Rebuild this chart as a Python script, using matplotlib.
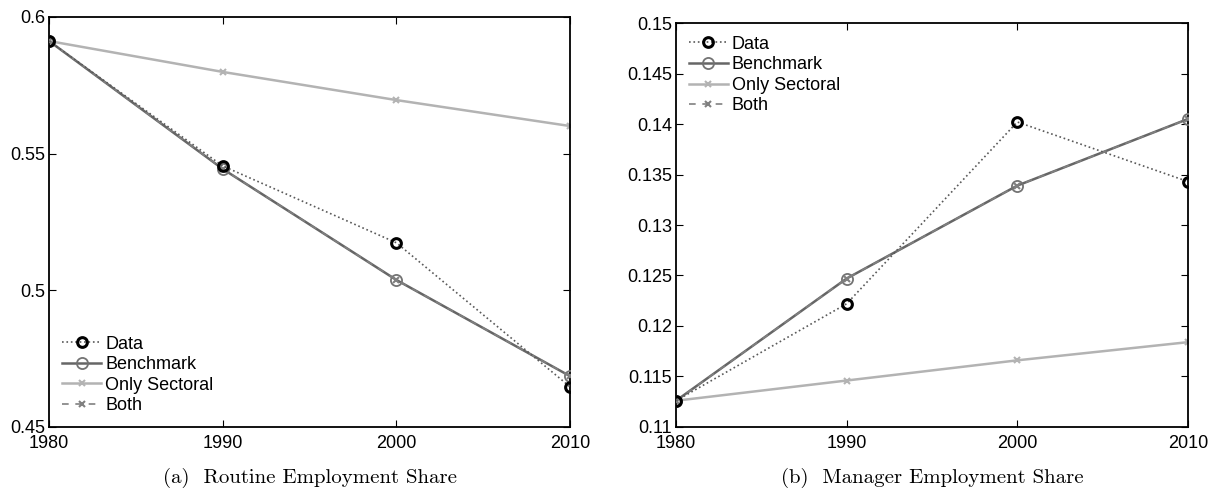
import matplotlib.pyplot as plt
from matplotlib.ticker import FuncFormatter

years = [1980, 1990, 2000, 2010]

# routine employment share
routine_data = [0.5912, 0.5455, 0.5174, 0.4647]
routine_bench = [0.5912, 0.5444, 0.5038, 0.4686]
routine_sect = [0.5912, 0.5799, 0.5696, 0.5601]
routine_both = [0.5912, 0.5444, 0.5038, 0.4686]

# manager employment share
manager_data = [0.1126, 0.1222, 0.1402, 0.1343]
manager_bench = [0.1126, 0.1247, 0.1339, 0.1405]
manager_sect = [0.1126, 0.1146, 0.1166, 0.1184]
manager_both = [0.1126, 0.1247, 0.1339, 0.1405]

labels = ["Data", "Benchmark", "Only Sectoral", "Both"]
captions = ["(a)  Routine Employment Share", "(b)  Manager Employment Share"]

plt.rcParams['font.family'] = ['Liberation Sans', 'DejaVu Sans']

fig = plt.figure(figsize=(12.11, 4.95), dpi=100)
ax1 = fig.add_axes([0.0405, 0.1374, 0.4302, 0.8283])
ax2 = fig.add_axes([0.5582, 0.1374, 0.4228, 0.8161])


def draw(ax, d, b, s, bo):
    ax.plot(years, d, linestyle=':', color='0.35', lw=1.2, marker='o', ms=7,
            mfc='none', mec='black', mew=2.2, label=labels[0], zorder=5)
    ax.plot(years, b, linestyle='-', color='0.4', lw=1.8, marker='o', ms=8,
            mfc='none', mec='0.45', mew=1.3, label=labels[1], zorder=3)
    ax.plot(years, s, linestyle='-', color='0.7', lw=1.8, marker='x', ms=5,
            mec='0.7', mew=1.5, label=labels[2], zorder=2)
    ax.plot(years, bo, linestyle=(0, (4, 4)), color='0.5', lw=1.2, marker='x', ms=5,
            mec='0.5', mew=1.5, label=labels[3], zorder=4)
    ax.set_xlim(1980, 2010)
    ax.set_xticks(years)
    ax.tick_params(direction='in', top=True, right=True, labelsize=13, length=5,
                   width=0.8)
    ax.tick_params(axis='x', pad=6)
    ax.tick_params(axis='y', pad=3)
    for sp in ax.spines.values():
        sp.set_linewidth(1.3)


draw(ax1, routine_data, routine_bench, routine_sect, routine_both)
ax1.set_ylim(0.45, 0.6)
ax1.set_yticks([0.45, 0.5, 0.55, 0.6])
ax1.yaxis.set_major_formatter(FuncFormatter(lambda v, p: '%g' % round(v, 4)))
ax1.legend(loc='lower left', frameon=False, fontsize=13, handlelength=2.2,
           handletextpad=0.2, labelspacing=0.2, borderaxespad=0.3)

draw(ax2, manager_data, manager_bench, manager_sect, manager_both)
ax2.set_ylim(0.11, 0.15)
ax2.set_yticks([0.11, 0.115, 0.12, 0.125, 0.13, 0.135, 0.14, 0.145, 0.15])
ax2.yaxis.set_major_formatter(FuncFormatter(lambda v, p: '%g' % round(v, 4)))
ax2.legend(loc='upper left', frameon=False, fontsize=13, handlelength=2.2,
           handletextpad=0.2, labelspacing=0.2, borderaxespad=0.3)

for ax, cap in zip([ax1, ax2], captions):
    pos = ax.get_position()
    fig.text((pos.x0 + pos.x1) / 2, 0.034, cap, ha='center', va='center',
             fontsize=15, family=['cmr10', 'DejaVu Serif'])

fig.savefig('out.png', dpi=100)
